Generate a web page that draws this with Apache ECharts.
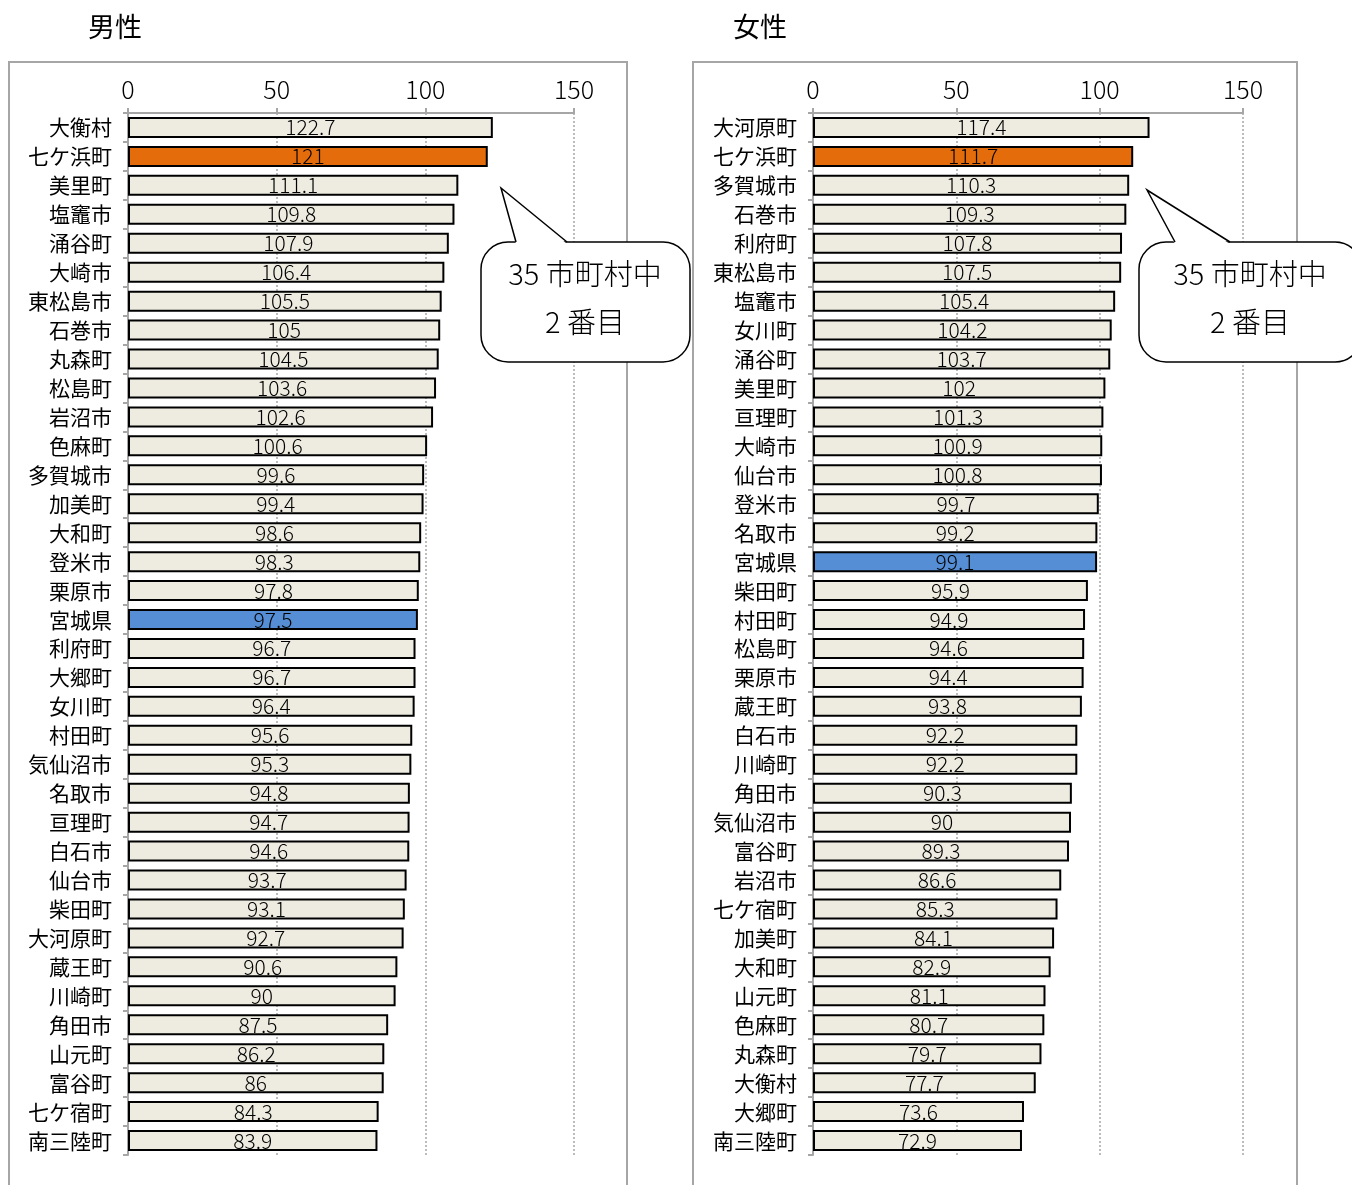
<!DOCTYPE html>
<html><head><meta charset="utf-8">
<script src="https://cdn.jsdelivr.net/npm/echarts@6/dist/echarts.min.js"></script>
<style>html,body{margin:0;padding:0;background:#fff}#c{width:1352px;height:1185px}</style>
</head><body><div id="c"></div>
<script>
const maleCats = ['大衡村','七ケ浜町','美里町','塩竈市','涌谷町','大崎市','東松島市','石巻市','丸森町','松島町','岩沼市','色麻町','多賀城市','加美町','大和町','登米市','栗原市','宮城県','利府町','大郷町','女川町','村田町','気仙沼市','名取市','亘理町','白石市','仙台市','柴田町','大河原町','蔵王町','川崎町','角田市','山元町','富谷町','七ケ宿町','南三陸町'];
const maleVals = [122.7,121,111.1,109.8,107.9,106.4,105.5,105,104.5,103.6,102.6,100.6,99.6,99.4,98.6,98.3,97.8,97.5,96.7,96.7,96.4,95.6,95.3,94.8,94.7,94.6,93.7,93.1,92.7,90.6,90,87.5,86.2,86,84.3,83.9];
const femaleCats = ['大河原町','七ケ浜町','多賀城市','石巻市','利府町','東松島市','塩竈市','女川町','涌谷町','美里町','亘理町','大崎市','仙台市','登米市','名取市','宮城県','柴田町','村田町','松島町','栗原市','蔵王町','白石市','川崎町','角田市','気仙沼市','富谷町','岩沼市','七ケ宿町','加美町','大和町','山元町','色麻町','丸森町','大衡村','大郷町','南三陸町'];
const femaleVals = [117.4,111.7,110.3,109.3,107.8,107.5,105.4,104.2,103.7,102,101.3,100.9,100.8,99.7,99.2,99.1,95.9,94.9,94.6,94.4,93.8,92.2,92.2,90.3,90,89.3,86.6,85.3,84.1,82.9,81.1,80.7,79.7,77.7,73.6,72.9];
const xTicks = [0, 50, 100, 150];
const titles = ['男性', '女性'];
const calloutLines = ['35 市町村中', '2 番目'];

const FONT = '"Noto Sans CJK JP", "Noto Sans", sans-serif';
const GRAY = '#A6A6A6';
const BASE = '#EEECE1', ORANGE = '#E46C0A', BLUE = '#558ED5';

function colored(cats, vals) {
  return vals.map((v, i) => {
    let c = BASE;
    if (cats[i] === '七ケ浜町') c = ORANGE;
    else if (cats[i] === '宮城県') c = BLUE;
    return { value: v, itemStyle: { color: c } };
  });
}
function xAxis(gi) {
  return {
    gridIndex: gi, type: 'value', position: 'top', min: xTicks[0], max: xTicks[xTicks.length-1], interval: 50,
    axisLine: { show: true, lineStyle: { color: GRAY, width: 2 } },
    axisTick: { show: true, length: 5, lineStyle: { color: GRAY, width: 2 } },
    axisLabel: { color: '#000', fontSize: 25, fontFamily: FONT, fontWeight: 300, margin: 11 },
    splitLine: { show: true, lineStyle: { color: GRAY, type: [2, 2], width: 1.5 } }
  };
}
function yAxis(gi, cats) {
  return {
    gridIndex: gi, type: 'category', inverse: true, data: cats,
    axisLine: { show: true, lineStyle: { color: GRAY, width: 2 } },
    axisTick: { show: true, length: 5, lineStyle: { color: GRAY, width: 2 } },
    axisLabel: { color: '#000', fontSize: 21, fontFamily: FONT, margin: 16 }
  };
}
function series(gi, cats, vals) {
  return {
    type: 'bar', xAxisIndex: gi, yAxisIndex: gi, data: colored(cats, vals), barWidth: 21,
    itemStyle: { borderColor: '#000', borderWidth: 2 },
    label: { show: true, position: 'inside', color: '#000', fontSize: 21, fontWeight: 300, fontFamily: FONT },
    emphasis: { disabled: true }, animation: false
  };
}
// bubble: rect box, pointer base x0..x1 on top edge, tip (tx,ty)
function bubble(bx, by, bw, bh, x0, x1, tx, ty, cx) {
  return [
    { type: 'rect', z: 100, shape: { x: bx, y: by, width: bw, height: bh, r: 27 }, style: { fill: '#fff', stroke: '#000', lineWidth: 1.5 } },
    { type: 'polygon', z: 101, shape: { points: [[x0, by + 2], [tx, ty], [x1, by + 2]] }, style: { fill: '#fff', stroke: null } },
    { type: 'polyline', z: 102, shape: { points: [[x0, by], [tx, ty], [x1, by]] }, style: { fill: null, stroke: '#000', lineWidth: 1.5 } },
    { type: 'text', z: 103, x: cx, y: 274, style: { text: calloutLines[0], fill: '#000', font: '300 29px ' + FONT, align: 'center', verticalAlign: 'middle' } },
    { type: 'text', z: 103, x: cx, y: 322, style: { text: calloutLines[1], fill: '#000', font: '300 29px ' + FONT, align: 'center', verticalAlign: 'middle' } }
  ];
}
const chart = echarts.init(document.getElementById('c'), null, { renderer: 'canvas' });
chart.setOption({
  animation: false,
  grid: [
    { left: 128, top: 113, width: 446, height: 1042 },
    { left: 813, top: 113, width: 430, height: 1042 }
  ],
  xAxis: [xAxis(0), xAxis(1)],
  yAxis: [yAxis(0, maleCats), yAxis(1, femaleCats)],
  series: [series(0, maleCats, maleVals), series(1, femaleCats, femaleVals)],
  graphic: [
    { type: 'rect', z: -1, shape: { x: 9, y: 62, width: 618, height: 1160 }, style: { fill: 'none', stroke: GRAY, lineWidth: 2 } },
    { type: 'rect', z: -1, shape: { x: 693, y: 62, width: 604, height: 1160 }, style: { fill: 'none', stroke: GRAY, lineWidth: 2 } },
    { type: 'text', x: 115, y: 27, style: { text: titles[0], fill: '#000', font: '27px ' + FONT, align: 'center', verticalAlign: 'middle' } },
    { type: 'text', x: 760, y: 27, style: { text: titles[1], fill: '#000', font: '27px ' + FONT, align: 'center', verticalAlign: 'middle' } },
    ...bubble(481, 242, 209, 120, 516, 567, 501, 188, 585),
    ...bubble(1139, 242, 223, 120, 1175, 1230, 1147, 190, 1250)
  ]
});
</script></body></html>
